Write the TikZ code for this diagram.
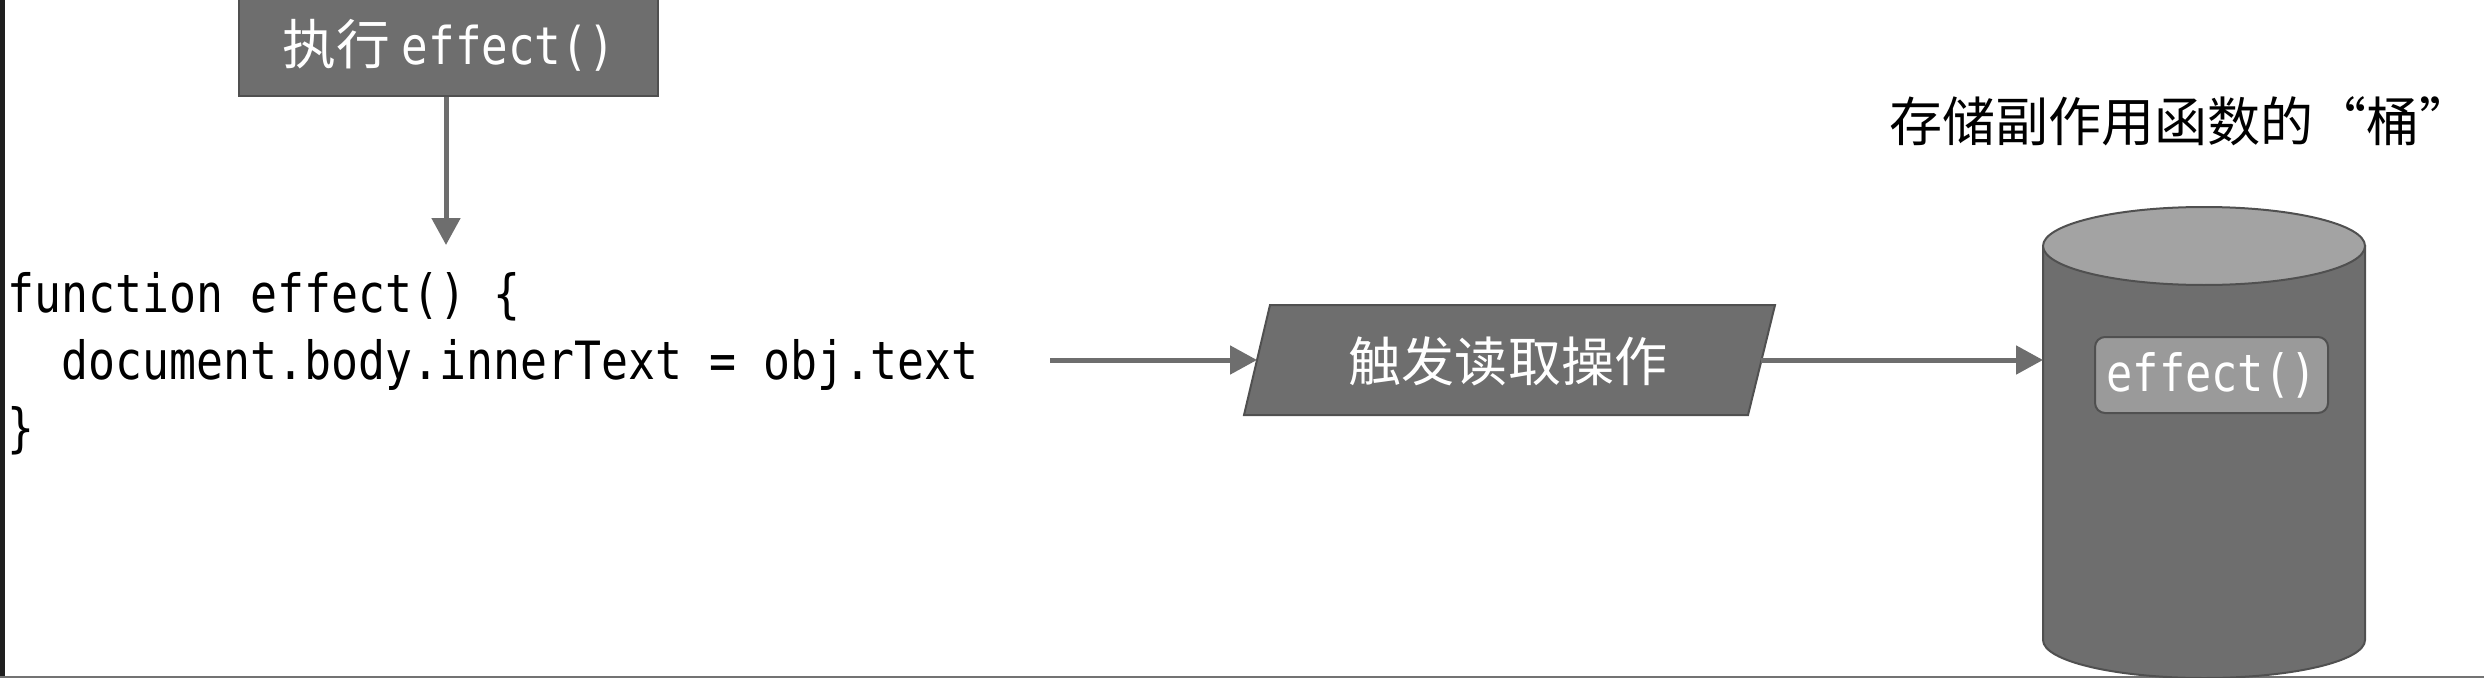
\documentclass[tikz,border=0pt]{standalone}
\usepackage{fontspec}
\usetikzlibrary{arrows.meta}
\newfontfamily\cjk{Noto Sans CJK SC}
\newfontfamily\codefont[FakeStretch=0.85]{DejaVu Sans Mono}
\definecolor{boxfill}{HTML}{6E6E6E}
\definecolor{boxline}{HTML}{505050}
\definecolor{lidfill}{HTML}{A3A3A3}
\definecolor{chipfill}{HTML}{9A9A9A}
\tikzset{
  conn/.style={draw=boxfill, line width=0.5mm, -{Triangle[width=2.8mm,length=2.7mm]}},
  grayshape/.style={fill=boxfill, draw=boxline, line width=0.2mm},
  codeline/.style={anchor=base west, inner sep=0pt, font=\codefont\fontsize{15pt}{17pt}\selectfont},
  cjklabel/.style={inner sep=0pt, font=\cjk\fontsize{15.1pt}{18pt}\selectfont},
}
\begin{document}
\begin{tikzpicture}[x=0.1mm,y=-0.1mm]
\useasboundingbox (0,0) rectangle (2484,678);
\fill[white] (0,0) rectangle (2484,678);
% screenshot frame
\fill[black!88] (0,0) rectangle (5,678);
\fill[black!55] (0,676) rectangle (2484,678);

% top box
\node[grayshape, minimum width=41.9mm, minimum height=10.1mm, inner sep=0pt, text=white] (exec) at (448.5,45.5)
  {{\cjk\fontsize{15.3pt}{18pt}\selectfont 执行 }{\codefont\fontsize{14.8pt}{17pt}\selectfont effect()}};

% code
\node[codeline] (code1) at (7,312) {function effect() \{};
\node[codeline] (code2) at (61,379) {document.body.innerText = obj.text};
\node[codeline] (code3) at (7,446) {\}};
\coordinate (codeout) at (1050,360);

% down arrow
\coordinate (codein) at (446,245);
\draw[conn] (exec.south -| codein) -- (codein);

% parallelogram
\draw[grayshape] (1270,305) -- (1775,305) -- (1748,415) -- (1244,415) -- cycle;
\node[cjklabel, text=white] (read) at (1508,361) {触发读取操作};
\coordinate (readL) at (1257,360);
\coordinate (readR) at (1761,360);
\draw[conn] (codeout) -- (readL);

% bucket
\node[minimum width=32.2mm, minimum height=47mm, inner sep=0pt, outer sep=0pt] (bucket) at (2204,442) {};
\draw[grayshape] (2043,246) -- (2043,640) arc[start angle=180, end angle=360, x radius=16.1mm, y radius=3.8mm] -- (2365,246) -- cycle;
\draw[fill=lidfill, draw=boxline, line width=0.2mm] (2204,246) ellipse[x radius=16.1mm, y radius=3.9mm];
\draw[conn] (readR) -- (bucket.west |- readR);

\node[fill=chipfill, draw=boxline, line width=0.2mm, rounded corners=1mm, minimum width=23.3mm, minimum height=7.6mm, inner sep=0pt, text=white, font=\codefont\fontsize{14.6pt}{17pt}\selectfont] (chip) at (2211.5,375) {effect()};

% label
\node[cjklabel, text=black] (bucketlabel) at (2181,121) {存储副作用函数的“桶”};
\end{tikzpicture}
\end{document}
